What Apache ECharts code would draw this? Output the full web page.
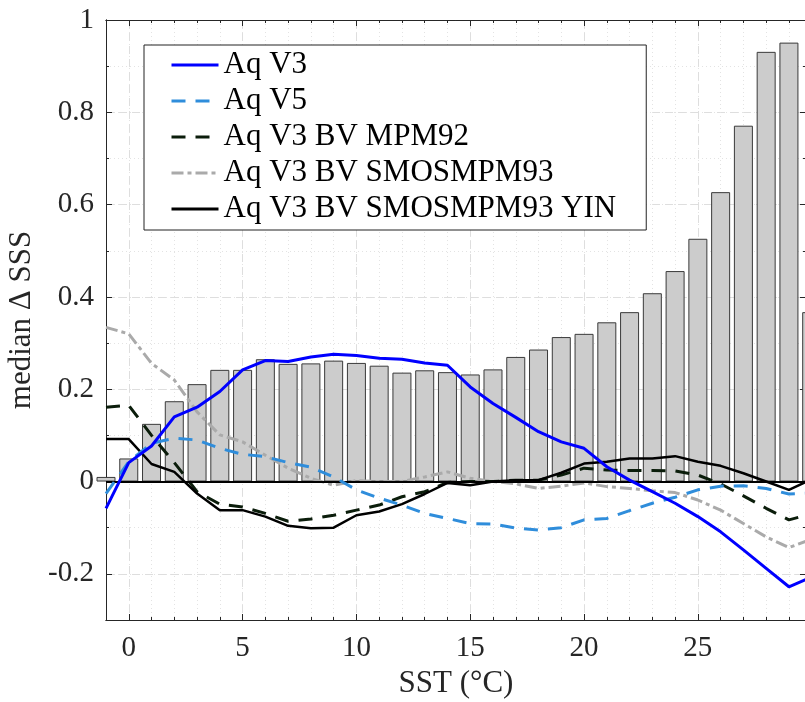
<!DOCTYPE html>
<html>
<head>
<meta charset="utf-8">
<title>median SSS vs SST</title>
<script src="https://cdn.jsdelivr.net/npm/echarts@6/dist/echarts.min.js"></script>
<style>
  html, body { margin: 0; padding: 0; background: #fff; }
  #chart { width: 805px; height: 702px; }
</style>
</head>
<body>
<div id="chart"></div>
<script>
// SST bins (deg C)
var sst = [-1, 0, 1, 2, 3, 4, 5, 6, 7, 8, 9, 10, 11, 12, 13, 14, 15, 16, 17, 18, 19, 20, 21, 22, 23, 24, 25, 26, 27, 28, 29, 30];
// grey bars (sample distribution)
var barHeights = [0.01, 0.05, 0.125, 0.174, 0.211, 0.242, 0.242, 0.265, 0.255, 0.256, 0.262, 0.257, 0.251, 0.236, 0.241, 0.237,
  0.232, 0.243, 0.27, 0.286, 0.313, 0.32, 0.345, 0.367, 0.408, 0.456, 0.526, 0.627, 0.771, 0.931, 0.951, 0.367];
var aqV3 = [-0.058, 0.041, 0.077, 0.14, 0.161, 0.195, 0.242, 0.262, 0.26, 0.27, 0.276, 0.273, 0.267, 0.265, 0.257, 0.252,
  0.205, 0.169, 0.139, 0.108, 0.086, 0.072, 0.032, 0.003, -0.022, -0.047, -0.076, -0.109, -0.148, -0.188, -0.228, -0.207];
var aqV5 = [-0.026, 0.043, 0.083, 0.094, 0.09, 0.072, 0.059, 0.054, 0.041, 0.031, 0.01, -0.018, -0.036, -0.051, -0.069, -0.08,
  -0.091, -0.092, -0.101, -0.105, -0.1, -0.083, -0.08, -0.063, -0.047, -0.034, -0.018, -0.01, -0.009, -0.015, -0.027, -0.025];
var bvMpm92 = [0.161, 0.165, 0.1, 0.041, -0.022, -0.049, -0.055, -0.069, -0.086, -0.081, -0.073, -0.062, -0.051, -0.033, -0.022, -0.002,
  0, 0, 0.003, 0.003, 0.014, 0.029, 0.025, 0.024, 0.024, 0.023, 0.014, -0.005, -0.031, -0.058, -0.083, -0.07];
var bvSmos93 = [0.334, 0.32, 0.256, 0.22, 0.151, 0.101, 0.086, 0.057, 0.029, 0.007, -0.008, 0.002, 0, 0, 0.01, 0.021,
  0.007, 0, -0.005, -0.015, -0.01, -0.003, -0.011, -0.015, -0.02, -0.024, -0.04, -0.062, -0.091, -0.12, -0.143, -0.125];
var bvSmos93Yin = [0.092, 0.092, 0.038, 0.021, -0.026, -0.062, -0.062, -0.076, -0.096, -0.101, -0.1, -0.073, -0.065, -0.049, -0.027, -0.003,
  -0.008, 0, 0.003, 0.003, 0.019, 0.039, 0.043, 0.05, 0.05, 0.055, 0.043, 0.034, 0.018, 0, -0.018, 0.005];
// tick labels
var xMajor = [0, 5, 10, 15, 20, 25];
var yMajor = [-0.2, 0, 0.2, 0.4, 0.6, 0.8, 1];

function pairs(ys) {
  return sst.map(function (x, i) { return [x, ys[i]]; });
}

var serif = 'Liberation Serif';
var axisCol = '#262626';

var myChart = echarts.init(document.getElementById('chart'));

function xAx(pos, major, extra) {
  var a = {
    type: 'value', position: pos, min: -1, max: 29.75,
    axisLine: { show: true, onZero: false, lineStyle: { color: axisCol, width: 1 } },
    axisTick: { show: true, inside: true, length: major ? 6 : 3, lineStyle: { color: axisCol } },
    axisLabel: { show: false },
    splitLine: { show: false }
  };
  if (major) {
    a.axisTick.customValues = xMajor;
    a.axisLabel.customValues = xMajor;
  } else {
    a.interval = 1;
  }
  return Object.assign(a, extra || {});
}
function yAx(pos, major, extra) {
  var a = {
    type: 'value', position: pos, min: -0.3, max: 1,
    axisLine: { show: true, onZero: false, lineStyle: { color: axisCol, width: 1 } },
    axisTick: { show: true, inside: true, length: major ? 6 : 3, lineStyle: { color: axisCol } },
    axisLabel: { show: false },
    splitLine: { show: false }
  };
  if (major) {
    a.axisTick.customValues = yMajor;
    a.axisLabel.customValues = yMajor;
  } else {
    a.interval = 0.1;
  }
  return Object.assign(a, extra || {});
}

var option = {
  animation: false,
  backgroundColor: '#fff',
  grid: { left: 106, top: 20, width: 700, height: 600, outerBoundsMode: 'none', containLabel: false },
  xAxis: [
    xAx('bottom', false, { splitLine: { show: true, lineStyle: { color: '#e3e3e3', type: [1, 3], width: 1 } } }),
    xAx('bottom', true, {
      axisLabel: { show: true, customValues: xMajor, margin: 14, color: axisCol, fontFamily: serif, fontSize: 29 },
      splitLine: { show: true, lineStyle: { color: '#dedede', type: [8, 5], width: 1 } },
      name: 'SST (°C)', nameLocation: 'middle', nameGap: 44,
      nameTextStyle: { color: axisCol, fontFamily: serif, fontSize: 31 }
    }),
    xAx('top', false),
    xAx('top', true)
  ],
  yAxis: [
    yAx('left', false, { splitLine: { show: true, lineStyle: { color: '#e3e3e3', type: [1, 3], width: 1 } } }),
    yAx('left', true, {
      axisLabel: {
        show: true, customValues: yMajor, margin: 12, color: axisCol, fontFamily: serif, fontSize: 29,
        formatter: function (v) { return String(Math.round(v * 10) / 10); }
      },
      splitLine: { show: true, lineStyle: { color: '#dedede', type: [8, 5], width: 1 } },
      name: 'median \u0394 SSS', nameLocation: 'middle', nameGap: 64,
      nameTextStyle: { color: axisCol, fontFamily: serif, fontSize: 31 }
    }),
    yAx('right', false),
    yAx('right', true)
  ],
  legend: {
    orient: 'vertical',
    left: 144, top: 45,
    data: ['Aq V3', 'Aq V5', 'Aq V3 BV MPM92', 'Aq V3 BV SMOSMPM93', 'Aq V3 BV SMOSMPM93 YIN'],
    itemWidth: 47, itemHeight: 14, itemGap: 0,
    padding: [2, 30, 3, 26],
    backgroundColor: '#fff',
    borderColor: '#222', borderWidth: 1,
    itemStyle: { opacity: 0 },
    lineStyle: { width: 3 },
    textStyle: { fontFamily: serif, fontSize: 31, lineHeight: 36, color: '#000' }
  },
  series: [
    {
      type: 'bar', xAxisIndex: 1, yAxisIndex: 1,
      data: pairs(barHeights),
      barWidth: 19,
      itemStyle: { color: '#cccccc', borderColor: '#3a3a3a', borderWidth: 1 },
      markLine: {
        silent: true, symbol: 'none', label: { show: false },
        lineStyle: { color: '#000', type: 'solid', width: 2 },
        data: [{ yAxis: 0 }]
      },
      z: 2
    },
    {
      name: 'Aq V3', type: 'line', xAxisIndex: 1, yAxisIndex: 1,
      data: pairs(aqV3), symbol: 'none',
      lineStyle: { color: '#0000ff', width: 3 }, itemStyle: { color: '#0000ff' }, z: 6
    },
    {
      name: 'Aq V5', type: 'line', xAxisIndex: 1, yAxisIndex: 1,
      data: pairs(aqV5), symbol: 'none',
      lineStyle: { color: '#2f8ddb', width: 3, type: [14, 10] }, itemStyle: { color: '#2f8ddb' }, z: 5
    },
    {
      name: 'Aq V3 BV MPM92', type: 'line', xAxisIndex: 1, yAxisIndex: 1,
      data: pairs(bvMpm92), symbol: 'none',
      lineStyle: { color: '#0b1d0b', width: 3, type: [14, 10] }, itemStyle: { color: '#0b1d0b' }, z: 4
    },
    {
      name: 'Aq V3 BV SMOSMPM93', type: 'line', xAxisIndex: 1, yAxisIndex: 1,
      data: pairs(bvSmos93), symbol: 'none',
      lineStyle: { color: '#aaaaaa', width: 3, type: [12, 4, 4, 4] }, itemStyle: { color: '#aaaaaa' }, z: 3
    },
    {
      name: 'Aq V3 BV SMOSMPM93 YIN', type: 'line', xAxisIndex: 1, yAxisIndex: 1,
      data: pairs(bvSmos93Yin), symbol: 'none',
      lineStyle: { color: '#000000', width: 2.5 }, itemStyle: { color: '#000000' }, z: 4
    }
  ]
};

myChart.setOption(option);
</script>
</body>
</html>
